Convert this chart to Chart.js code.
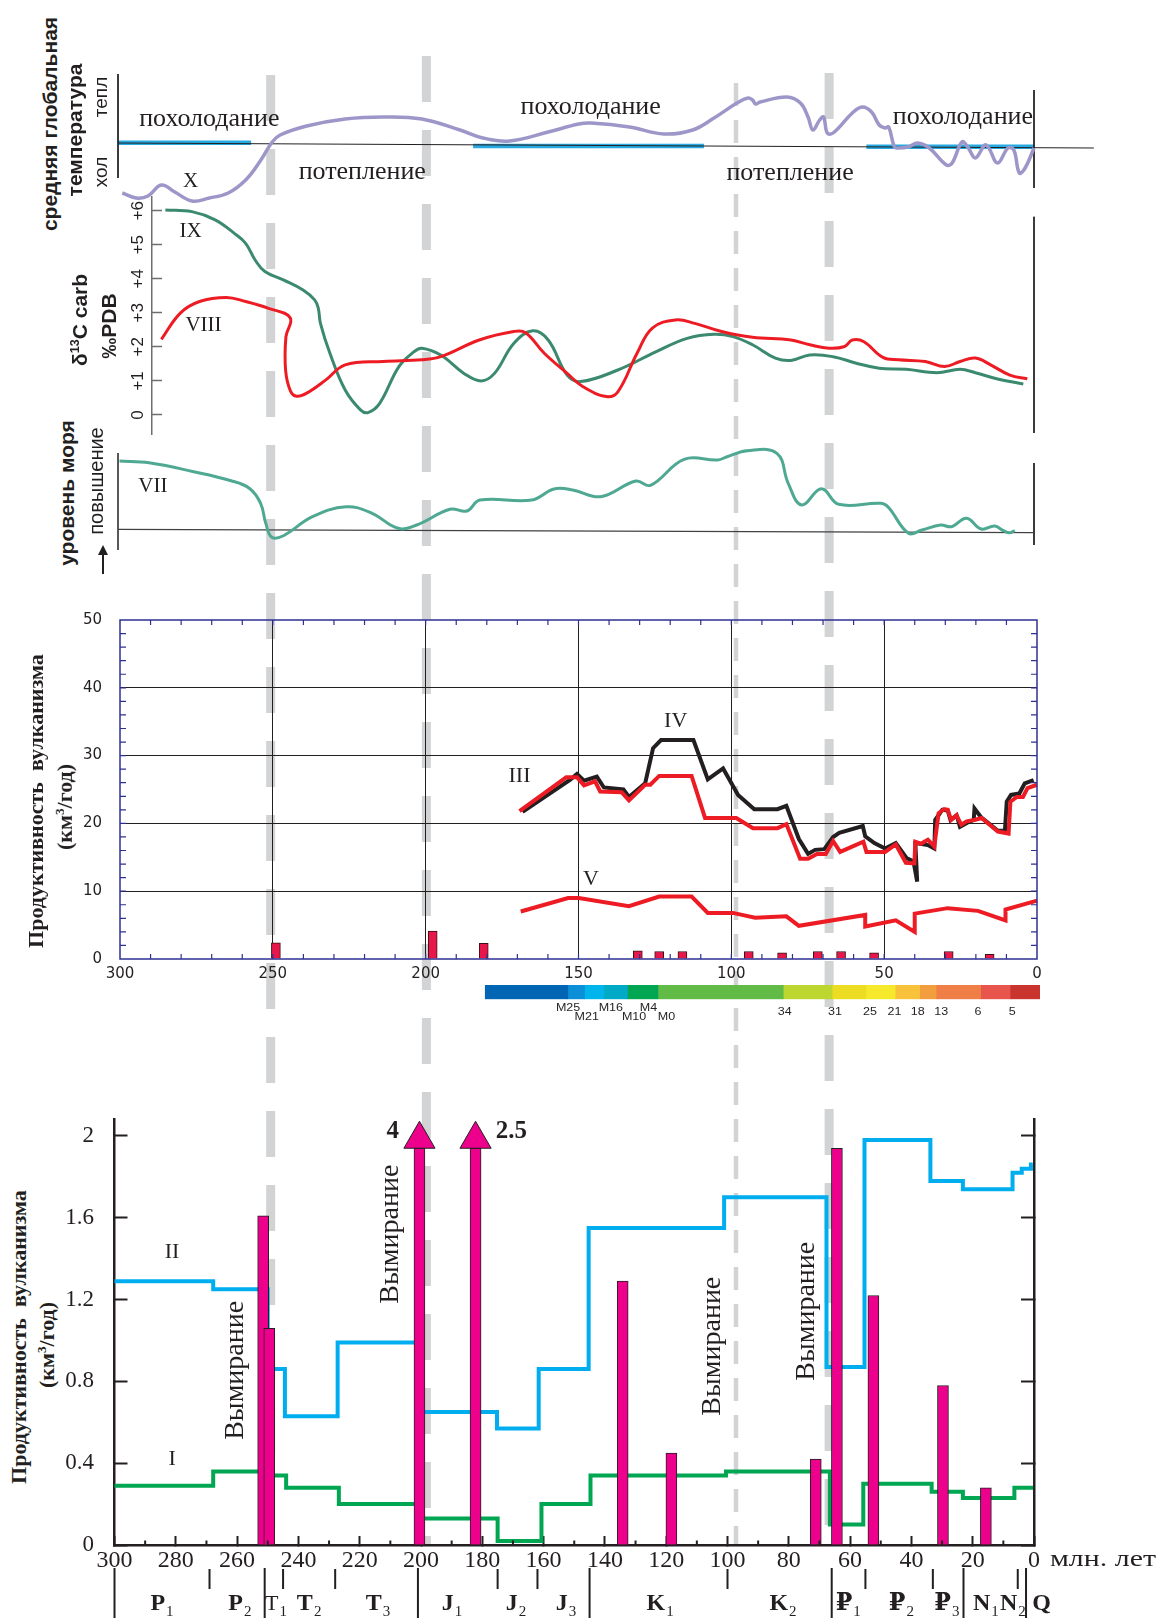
<!DOCTYPE html>
<html lang="ru">
<head>
<meta charset="utf-8">
<script src="https://cdn.jsdelivr.net/npm/chart.js@4.4.1/dist/chart.umd.min.js"></script>
<style>
  html, body { margin: 0; padding: 0; background: #fff; }
  body { position: relative; width: 1164px; height: 1618px; overflow: hidden; color: #231f20; }
  canvas { position: absolute; }
  .vt { position: absolute; z-index: 3; white-space: nowrap; line-height: 1; transform: translate(-50%, -50%) rotate(-90deg); }
  .sb { font: bold 21px 'Liberation Sans', Arial, sans-serif; }
  .sr { font: 19px 'Liberation Sans', Arial, sans-serif; }
  .tb { font: bold 22px 'Liberation Serif', 'Times New Roman', serif; }
  sup { font-size: 60%; }
</style>
</head>
<body>
<div class="vt sb" style="left:50px;top:124px">средняя глобальная</div>
<div class="vt sb" style="left:75px;top:130px">температура</div>
<div class="vt sr" style="left:101px;top:97px">тепл</div>
<div class="vt sr" style="left:101px;top:172px">хол</div>
<div class="vt sb" style="left:80px;top:320px">δ<sup>13</sup>C carb</div>
<div class="vt sb" style="left:109px;top:326px">‰PDB</div>
<div class="vt sb" style="left:67px;top:493px">уровень моря</div>
<div class="vt sr" style="left:96px;top:481px;font-size:20px">повышение</div>
<div style="position:absolute;left:102px;top:553px;width:2px;height:21px;background:#231f20"></div>
<div style="position:absolute;left:98px;top:545px;width:0;height:0;border-left:5px solid transparent;border-right:5px solid transparent;border-bottom:10px solid #231f20"></div>
<div class="vt tb" style="left:36px;top:801px">Продуктивность&nbsp;&nbsp;вулканизма</div>
<div class="vt tb" style="left:65px;top:807px">(км<sup>3</sup>/год)</div>
<div class="vt tb" style="left:19px;top:1337px">Продуктивность&nbsp;&nbsp;вулканизма</div>
<div class="vt tb" style="left:47px;top:1345px">(км<sup>3</sup>/год)</div>

<script>
// ---------- data (ages in Ma) ----------

// X: mean global temperature, relative units (0 = baseline)
const tempCurve = [
  [298.6,-4.8],[294.0,-5.3],[290.2,-5.1],[285.8,-4.0],[281.4,-4.7],[275.8,-5.6],[270.1,-5.3],
  [263.9,-4.8],[258.2,-3.5],[253.2,-1.5],[249.5,0.3],[246.9,1.0],[238.2,1.9],[225.6,2.6],
  [213.1,2.8],[200.5,2.6],[188.0,1.5],[180.5,0.7],[171.7,0.4],[159.1,1.3],[149.1,2.1],
  [145.1,2.2],[132.5,1.8],[121.2,1.1],[111.8,1.5],[104.8,2.7],[97.3,4.2],[93.7,4.7],
  [92.2,4.5],[91.2,4.1],[89.7,4.3],[80.9,4.8],[76.5,4.2],[74.0,2.8],[72.4,1.5],[70.2,2.5],
  [68.9,2.8],[67.7,1.2],[65.8,1.2],[59.5,3.2],[56.3,3.8],[53.2,3.3],[50.7,2.0],[48.8,1.7],
  [47.6,1.8],[45.7,-0.2],[44.4,-0.3],[41.3,-0.2],[38.1,0.2],[34.3,-0.3],[28.7,-2.0],
  [26.8,-1.8],[23.6,0.3],[21.7,-0.2],[19.2,-1.3],[16.1,0.0],[14.8,-0.3],[11.9,-1.8],
  [8.5,-0.3],[6.6,-0.5],[4.8,-2.8],[2.9,-2.3],[0,-0.3]
];
const coolStart = [300, 183.7, 54.9];
const coolEnd = [256.4, 108.1, 0];
const coolLevel = [0.23, -0.1, -0.17];
const tempBaseline = [[300, 0.2], [-19.6, -0.3]];

// IX and VIII: δ13C carb, ‰ PDB
const carbIX = [
  [284.5,6.02],[275.8,5.97],[268.2,5.73],[262.0,5.34],[258.2,5.04],[255.1,4.55],[251.9,4.21],
  [245.7,3.96],[239.4,3.67],[235.6,3.38],[234.4,3.13],[233.7,2.69],[230.6,1.81],[225.6,0.73],
  [220.6,0.15],[218.1,0.07],[214.3,0.34],[208.0,1.42],[203.0,1.86],[200.5,1.96],[194.3,1.76],
  [186.7,1.22],[181.1,1.0],[176.7,1.22],[170.4,2.1],[164.2,2.47],[159.1,2.2],[152.9,1.17],
  [148.5,0.98],[136.3,1.32],[123.7,1.86],[113.6,2.25],[104.8,2.37],[98.6,2.3],[92.2,2.06],
  [84.7,1.67],[79.6,1.6],[73.4,1.76],[65.8,1.71],[58.2,1.52],[50.7,1.37],[41.9,1.34],
  [31.8,1.24],[24.2,1.34],[19.2,1.24],[11.6,1.05],[3.5,0.91]
];
const carbVIII = [
  [285.8,2.22],[279.6,2.99],[273.3,3.33],[264.5,3.45],[258.2,3.33],[250.7,3.13],[243.6,2.85],
  [245.0,2.3],[245.1,1.3],[243.5,0.7],[241.5,0.55],[238.2,0.64],[231.9,1.03],[225.6,1.47],
  [213.1,1.57],[200.5,1.62],[194.3,1.71],[181.7,2.2],[170.4,2.45],[166.6,2.42],[160.4,1.81],
  [152.9,1.22],[147.7,0.83],[140.1,0.54],[136.3,0.68],[130.0,1.81],[125.0,2.55],[117.4,2.79],
  [111.1,2.69],[102.3,2.45],[92.2,2.28],[79.6,2.2],[73.4,2.06],[67.1,1.96],[62.0,2.01],
  [59.5,2.2],[55.7,2.15],[49.5,1.69],[44.4,1.62],[35.6,1.57],[29.3,1.42],[24.2,1.57],
  [19.2,1.67],[14.2,1.47],[7.9,1.17],[2.2,1.06]
];
const deltaTicks = [0, 1, 2, 3, 4, 5, 6];

// VII: sea level, relative units (0 = baseline)
const seaVII = [
  [299.5,6.9],[289.8,6.73],[275.2,5.83],[263.0,4.93],[257.0,4.17],[253.3,2.67],[251.6,0.67],
  [249.6,-0.73],[246.0,-0.6],[236.3,1.33],[225.3,2.33],[216.8,1.67],[208.3,0.17],[202.2,0.5],
  [191.3,2.07],[185.7,1.9],[181.5,3.0],[164.5,3.0],[157.2,4.1],[151.1,4.0],[141.9,3.33],
  [130.4,4.9],[125.6,4.47],[114.6,7.07],[103.6,7.0],[100.5,7.33],[93.9,7.93],[84.2,7.67],
  [80.5,4.67],[76.1,2.5],[69.6,4.13],[64.0,2.57],[50.1,2.67],[47.7,2.27],[41.1,-0.33],
  [36.7,0.0],[30.6,0.5],[27.0,0.33],[22.1,1.17],[17.3,0.1],[12.9,0.4],[10.0,-0.07],
  [8.0,-0.27],[6.3,-0.07]
];
const seaBaseline = [[300, 0.07], [0, -0.27]];

// III, IV, V: volcanic productivity, km3/yr
const volcIII = [
  [169.3,21.8],[154,26.8],[150.5,26.8],[148.2,25.6],[144.6,26.2],[142.9,24.7],[135.9,24.6],
  [133.5,23.4],[128.2,25.7],[126.5,25.7],[123.6,27.0],[113,27.0],[108.6,20.8],[98.4,20.8],
  [92.9,19.3],[84.9,19.3],[82,19.9],[77.5,14.8],[74.9,14.8],[72,15.5],[69.1,15.5],[66.7,17.4],
  [64.4,15.8],[56.8,17.3],[55.8,15.8],[49.7,15.8],[46.2,16.9],[42.9,14.2],[40.1,14.1],
  [39.8,17.3],[38,17.0],[35.7,17.6],[33.6,16.6],[32.2,21.5],[30.4,22.1],[29.2,22.0],
  [28.1,20.5],[26.3,21.2],[24.8,19.8],[23,20.3],[20.5,20.5],[18.1,20.8],[15.8,19.9],
  [12.8,18.8],[9.3,18.5],[8.7,23.2],[6.6,23.9],[4.6,23.9],[3.1,25.2],[0,25.7]
];
const volcIV = [
  [168.3,21.7],[152.8,26.4],[150.5,27.3],[148.2,26.3],[144,26.9],[141.7,25.3],[135.3,25.0],
  [133.5,23.9],[128.2,25.9],[125.6,31.1],[123,32.3],[112.4,32.3],[107.7,26.5],[102.7,28.1],
  [97.8,24.2],[92.5,22.1],[84.9,22.1],[82,22.6],[77.9,17.7],[74.9,15.5],[72.6,16.1],
  [69.6,16.2],[66.7,18.0],[64.7,18.6],[57,19.6],[56.2,18.1],[53.2,17.1],[49.7,16.3],
  [46.2,17.1],[42.7,14.9],[40.4,14.4],[39.2,11.4],[39.8,17.1],[35.7,16.8],[33.6,16.3],
  [33.3,20.5],[31,22.0],[29.2,21.9],[28.3,20.5],[26.3,21.2],[25.2,19.5],[22.8,20.1],
  [20.7,20.5],[20.45,22.2],[18.3,20.9],[15.8,20.0],[12.8,18.9],[10.5,18.9],[9.9,23.2],
  [8.5,24.2],[5.8,24.4],[4,25.9],[1.1,26.4]
];
const volcV = [
  [168.9,7.0],[153.4,9.0],[149.9,9.0],[133.5,7.8],[123.6,9.2],[113,9.2],[107.7,6.8],[99.5,6.8],
  [92.2,6.1],[82,6.3],[77.9,4.9],[56.2,6.5],[56.2,4.8],[46.2,5.7],[40,4.0],[40,6.7],[29.2,7.5],
  [19.3,7.1],[10.3,5.7],[10.3,7.3],[0,8.6]
];
const midPulseAge = [249, 197.7, 181, 130.6, 123.6, 116, 94.3, 83.4, 71.7, 64.1, 53.3, 28.9, 15.5];
const midPulseValue = [2.4, 4.1, 2.3, 1.2, 1.1, 1.1, 1.1, 0.9, 1.1, 1.1, 0.9, 1.1, 0.7];

// magnetic anomaly scale
const chronBounds = [180.5, 153.5, 148, 141.7, 134, 124, 83, 67, 56, 46.4, 38.4, 33, 18.4, 8.8, -1];
const chronName = ['M25', 'M21', 'M16', 'M10', 'M4', 'M0', '34', '31', '25', '21', '18', '13', '6', '5'];
const chronAge = [153.4, 147.3, 139.4, 131.8, 127.1, 121.2, 82.5, 66.1, 54.6, 46.6, 39, 31.3, 19.3, 8.1];
const chronRow = [0, 1, 0, 1, 0, 1, 2, 2, 2, 2, 2, 2, 2, 2];

// II and I: step series, km3/yr
const lipIIStart = [300, 267.8, 250, 244.4, 227.2, 200, 175.2, 161.6, 145.3, 101.1, 67.7, 55.3, 33.8, 23.2, 7, 4, 1];
const lipIILevel = [1.29, 1.25, 0.86, 0.63, 0.99, 0.65, 0.57, 0.86, 1.55, 1.70, 0.87, 1.98, 1.78, 1.74, 1.82, 1.84, 1.86];
const lipIIEnd = 0.4;
const lipIStart = [300, 267.8, 250, 244, 226.8, 200, 175, 160.7, 144.7, 100.5, 66.6, 55.7, 33.4, 23.2, 6.4];
const lipILevel = [0.29, 0.36, 0.34, 0.28, 0.20, 0.13, 0.02, 0.20, 0.34, 0.36, 0.10, 0.30, 0.26, 0.23, 0.28];
const lipIEnd = 0.3;
const pulseAge = [251.5, 249.5, 200.5, 182.2, 134.2, 118.3, 71.2, 64.3, 52.4, 29.7, 15.7];
const pulseValue = [1.61, 1.06, 4, 2.5, 1.29, 0.45, 0.42, 1.96, 1.22, 0.78, 0.28];
const pulseCap = 1.94;          // bars above the axis are cut here and get an arrow
const bottomTicks = [0, 0.4, 0.8, 1.2, 1.6, 2];

// geological time scale
const periodBounds = [300, 251, 201, 145, 66, 23, 2.6];
const epochBounds = [269, 245, 228, 175, 162, 100, 55, 33, 5.3];
const stageName = ['P', 'P', 'T', 'T', 'T', 'J', 'J', 'J', 'K', 'K', '₽', '₽', '₽', 'N', 'N', 'Q'];
const stageSub = ['1', '2', '1', '2', '3', '1', '2', '3', '1', '2', '1', '2', '3', '1', '2', ''];
const stageAge = [284.5, 259.1, 247.3, 236.5, 214, 189.9, 169, 152.7, 122, 81.9, 60.6, 43.3, 28.4, 15.7, 6.9, -2.6];

// extinction events (grey dashed lines)
const eventAge = [250, 199, 97.6, 67.1];

// ---------- styles ----------
const INK = '#231f20';
const SANS = "'Liberation Sans', Arial, sans-serif";
const WIDE_SANS = "'DejaVu Sans', 'Liberation Sans', sans-serif";
const SERIF = "'Liberation Serif', 'DejaVu Serif', 'Times New Roman', serif";
const PURPLE = '#9d96c9', CYAN = '#27aae1', TEAL = '#3b8a70', RED = '#ed1c24', SEA = '#4ea892';
const LIPII = '#00aeef', LIPI = '#00a651', MAGENTA = '#ec008c', FRAME = '#2e3192';
const chronColors = ['#0066b3', '#0a8fd8', '#00b4ec', '#00a9c6', '#00a651', '#62bb46', '#bed630',
  '#ecdc22', '#f6e82b', '#f8c23b', '#f29d3e', '#ef7f46', '#e8554c', '#c9342e'];
const eventTop = [75, 56, 83, 73];      // page px where each dashed line starts
const eventBottom = 1545;
const eventWidth = [9, 9, 4.5, 9];
const eventDash = [[46, 28], [46, 28], [23, 14], [46, 28]];

Chart.defaults.font.family = SANS;
Chart.defaults.color = INK;
Chart.defaults.animation = false;
Chart.defaults.plugins.legend.display = false;
Chart.defaults.plugins.tooltip.enabled = false;

// ---------- helpers ----------
function makeCanvas(left, top, width, height, z) {
  const c = document.createElement('canvas');
  c.width = width; c.height = height;
  c.style.left = left + 'px'; c.style.top = top + 'px';
  c.style.width = width + 'px'; c.style.height = height + 'px';
  c.style.zIndex = z;
  document.body.appendChild(c);
  return c;
}
const pts = arr => arr.map(([x, y]) => ({ x, y }));
function lineSet(data, color, width, extra) {
  return Object.assign({ type: 'line', data, borderColor: color, borderWidth: width,
    pointRadius: 0, fill: false, tension: 0, clip: false }, extra || {});
}
const hiddenX = (min, max) => ({ type: 'linear', min, max, reverse: true, display: false });
const baseOpts = { responsive: false, devicePixelRatio: 1, animation: false };
// fixed axis boxes, no automatic label overhang padding
const fixW = w => s => { s.width = w; s.paddingTop = 0; s.paddingBottom = 0; };
const fixH = h => s => { s.height = h; s.paddingLeft = 0; s.paddingRight = 0; };

function notes(items) {
  return {
    id: 'notes',
    afterDraw(chart) {
      const ctx = chart.ctx, xs = chart.scales.x, ys = chart.scales.y;
      items.forEach(it => {
        ctx.save();
        ctx.translate(xs.getPixelForValue(it.x), ys.getPixelForValue(it.y));
        if (it.rotate) ctx.rotate(it.rotate * Math.PI / 180);
        if (it.sx) ctx.scale(it.sx, 1);
        ctx.font = it.font;
        ctx.fillStyle = it.color || INK;
        ctx.textAlign = it.align || 'center';
        ctx.textBaseline = 'middle';
        ctx.fillText(it.text, 0, 0);
        ctx.restore();
      });
    }
  };
}

// ---------- grey dashed event lines (behind everything) ----------
new Chart(makeCanvas(108, 0, 936, 1618, 0), {
  type: 'line',
  data: { datasets: eventAge.map((a, i) => lineSet([{ x: a, y: eventTop[i] }, { x: a, y: eventBottom }],
    '#d1d3d4', eventWidth[i], { borderDash: eventDash[i], borderCapStyle: 'butt' })) },
  options: Object.assign({}, baseOpts, {
    layout: { padding: { left: 10, right: 10, top: 0, bottom: 0 } },
    scales: { x: hiddenX(0, 300), y: { type: 'linear', min: 0, max: 1618, reverse: true, display: false } }
  })
});

// ---------- temperature ----------
const labelFont = `26px ${SERIF}`;
const romanFont = `21px ${SERIF}`;
new Chart(makeCanvas(108, 45, 996, 175, 1), {
  type: 'line',
  data: { datasets: [
    lineSet(pts(tempCurve), PURPLE, 3.5, { tension: 0.4, order: 0 }),
    lineSet(pts(tempBaseline), INK, 1, { order: 1 }),
    ...coolStart.map((s, i) => lineSet([{ x: s, y: coolLevel[i] }, { x: coolEnd[i], y: coolLevel[i] }], CYAN, 4.5, { order: 2 })),
    lineSet([{ x: 300, y: 7.1 }, { x: 300, y: -3.3 }], INK, 1, { order: 1 }),
    lineSet([{ x: 0, y: 5.5 }, { x: 0, y: -4.3 }], INK, 1, { order: 1 })
  ] },
  options: Object.assign({}, baseOpts, {
    layout: { padding: 10 },
    scales: { x: hiddenX(-19.65, 300), y: { type: 'linear', min: -6.5, max: 9, display: false } }
  }),
  plugins: [notes([
    { x: 270.1, y: 2.6, text: 'похолодание', font: labelFont },
    { x: 220.0, y: -2.67, text: 'потепление', font: labelFont },
    { x: 145.2, y: 3.77, text: 'похолодание', font: labelFont },
    { x: 79.9, y: -2.77, text: 'потепление', font: labelFont },
    { x: 23.3, y: 2.83, text: 'похолодание', font: labelFont },
    { x: 276.2, y: -3.67, text: 'X', font: romanFont }
  ])]
});

// ---------- δ13C ----------
function deltaLabels(values) {
  return {
    id: 'deltaLabels',
    afterDraw(chart) {
      const { ctx, chartArea } = chart, ys = chart.scales.y;
      ctx.save();
      ctx.font = `17px ${SANS}`; ctx.fillStyle = INK;
      ctx.textAlign = 'center'; ctx.textBaseline = 'middle';
      values.forEach(v => {
        ctx.save();
        ctx.translate(chartArea.left - 14, ys.getPixelForValue(v));
        ctx.rotate(-Math.PI / 2);
        ctx.fillText(v === 0 ? '0' : '+' + v, 0, 0);
        ctx.restore();
      });
      ctx.restore();
    }
  };
}
new Chart(makeCanvas(102, 189, 947, 253, 1), {
  type: 'line',
  data: { datasets: [
    lineSet(pts(carbVIII), RED, 3, { tension: 0.4, order: 0 }),
    lineSet(pts(carbIX), TEAL, 3, { tension: 0.4, order: 1 }),
    lineSet([{ x: 0, y: 5.82 }, { x: 0, y: -0.53 }], INK, 1, { order: 2 })
  ] },
  options: Object.assign({}, baseOpts, {
    layout: { padding: { left: 10, right: 15, top: 8, bottom: 8 } },
    scales: {
      x: hiddenX(0, 288.87),
      y: {
        type: 'linear', position: 'left', min: -0.56, max: 6.4,
        afterBuildTicks: s => { s.ticks = deltaTicks.map(v => ({ value: v })); },
        afterFit: fixW(40),
        ticks: { display: false },
        grid: { drawOnChartArea: false, drawTicks: true, tickLength: -10, tickColor: '#6d6e71', tickWidth: 1.5 },
        border: { display: true, color: '#6d6e71', width: 1.5 }
      }
    }
  }),
  plugins: [deltaLabels(deltaTicks), notes([
    { x: 276.2, y: 5.38, text: 'IX', font: romanFont },
    { x: 272.0, y: 2.64, text: 'VIII', font: romanFont }
  ])]
});

// ---------- sea level ----------
new Chart(makeCanvas(108, 430, 936, 140, 1), {
  type: 'line',
  data: { datasets: [
    lineSet(pts(seaVII), SEA, 3, { tension: 0.4, order: 0 }),
    lineSet(pts(seaBaseline), '#414042', 1.3, { order: 1 }),
    lineSet([{ x: 300, y: 7.7 }, { x: 300, y: -2.0 }], '#414042', 1, { order: 1 }),
    lineSet([{ x: 0, y: 6.7 }, { x: 0, y: -1.5 }], INK, 1, { order: 1 })
  ] },
  options: Object.assign({}, baseOpts, {
    layout: { padding: 10 },
    scales: { x: hiddenX(0, 300), y: { type: 'linear', min: -3, max: 9, display: false } }
  }),
  plugins: [notes([{ x: 288.6, y: 4.33, text: 'VII', font: romanFont }])]
});

// ---------- volcanism 0-50 km3/yr ----------
function frameTicks(minorX, minorY) {
  return {
    id: 'frameTicks',
    afterDatasetsDraw(chart) {
      const { ctx, chartArea: a } = chart, xs = chart.scales.x, ys = chart.scales.y;
      ctx.save();
      ctx.strokeStyle = FRAME; ctx.lineWidth = 1.5;
      ctx.strokeRect(a.left, a.top, a.right - a.left, a.bottom - a.top);
      ctx.lineWidth = 1.2;
      ctx.beginPath();
      minorX.forEach(v => {
        const x = xs.getPixelForValue(v);
        ctx.moveTo(x, a.bottom); ctx.lineTo(x, a.bottom - 5);
        ctx.moveTo(x, a.top); ctx.lineTo(x, a.top + 5);
      });
      minorY.forEach(v => {
        const y = ys.getPixelForValue(v);
        ctx.moveTo(a.left, y); ctx.lineTo(a.left + 6, y);
        ctx.moveTo(a.right, y); ctx.lineTo(a.right - 6, y);
      });
      ctx.stroke();
      ctx.restore();
    }
  };
}
const minorAges = [];
for (let a = 10; a < 300; a += 10) minorAges.push(a);
const minorKm = [];
for (let v = 2; v < 50; v += 2) minorKm.push(v);
const edgeColor = (lo, hi) => c => (!c.tick || c.tick.value === lo || c.tick.value === hi) ? 'rgba(0,0,0,0)' : INK;

new Chart(makeCanvas(60, 600, 1000, 400, 1), {
  type: 'line',
  data: { datasets: [
    { type: 'bar', data: midPulseAge.map((a, i) => ({ x: a, y: midPulseValue[i] })), backgroundColor: '#e8174b',
      borderColor: '#3b1113', borderWidth: 1, barThickness: 9, order: 4 },
    lineSet(pts(volcIV), INK, 4, { order: 3, borderJoinStyle: 'miter' }),
    lineSet(pts(volcV), RED, 4, { order: 2 }),
    lineSet(pts(volcIII), RED, 4, { order: 1 })
  ] },
  options: Object.assign({}, baseOpts, {
    layout: { padding: { left: 0, right: 23, top: 20, bottom: 0 } },
    scales: {
      x: {
        type: 'linear', min: 0, max: 300, reverse: true, offset: false,
        afterFit: fixH(41),
        ticks: { stepSize: 50, padding: 6, autoSkip: false, maxRotation: 0, font: { family: WIDE_SANS, size: 15 } },
        grid: { offset: false, drawTicks: false, color: edgeColor(0, 300), lineWidth: 1 },
        border: { display: false, color: FRAME }
      },
      y: {
        type: 'linear', min: 0, max: 50,
        afterFit: fixW(60),
        ticks: { stepSize: 10, padding: 18, font: { family: WIDE_SANS, size: 15 } },
        grid: { offset: false, drawTicks: false, color: edgeColor(0, 50), lineWidth: 1 },
        border: { display: false, color: FRAME }
      }
    }
  }),
  plugins: [frameTicks(minorAges, minorKm), notes([
    { x: 118.2, y: 35.0, text: 'IV', font: `22px ${SERIF}` },
    { x: 169.3, y: 27.0, text: 'III', font: `22px ${SERIF}` },
    { x: 145.9, y: 11.8, text: 'V', font: `22px ${SERIF}` }
  ])]
});

// ---------- magnetic anomaly colour bar ----------
function chronLabels() {
  return {
    id: 'chronLabels',
    afterDraw(chart) {
      const { ctx, chartArea } = chart, xs = chart.scales.x;
      const rowOffset = [9, 17.5, 13];
      ctx.save();
      ctx.font = `10px ${SANS}`; ctx.fillStyle = INK;
      ctx.textAlign = 'center'; ctx.textBaseline = 'middle';
      chronName.forEach((n, i) => {
        ctx.save();
        ctx.translate(xs.getPixelForValue(chronAge[i]), chartArea.bottom + rowOffset[chronRow[i]]);
        ctx.scale(1.25, 1);
        ctx.fillText(n, 0, 0);
        ctx.restore();
      });
      ctx.restore();
    }
  };
}
new Chart(makeCanvas(110, 975, 940, 50, 1), {
  type: 'bar',
  data: { labels: [''], datasets: chronColors.map((c, i) => ({
    data: [[chronBounds[i], chronBounds[i + 1]]], backgroundColor: c, borderWidth: 0,
    grouped: false, barPercentage: 1, categoryPercentage: 1 })) },
  options: Object.assign({}, baseOpts, {
    indexAxis: 'y',
    layout: { padding: { left: 10, right: 10, top: 10, bottom: 25.7 } },
    scales: { x: { type: 'linear', min: -1, max: 300, reverse: true, display: false }, y: { display: false } }
  }),
  plugins: [chronLabels()]
});

// ---------- volcanism 0-2 km3/yr with time scale ----------
const stepData = (starts, levels, end) =>
  starts.map((s, i) => ({ x: s, y: levels[i] })).concat([{ x: end, y: levels[levels.length - 1] }]);
const yMaxBottom = 2.083;

function bottomDecor() {
  return {
    id: 'bottomDecor',
    afterDraw(chart) {
      const { ctx, chartArea: a } = chart, xs = chart.scales.x;
      ctx.save();
      ctx.strokeStyle = INK; ctx.lineWidth = 2;
      ctx.beginPath();
      minorAges.filter(v => v % 20 !== 0).forEach(v => {
        const x = xs.getPixelForValue(v);
        ctx.moveTo(x, a.bottom); ctx.lineTo(x, a.bottom - 4.5);
      });
      periodBounds.forEach(v => {
        const x = xs.getPixelForValue(v);
        ctx.moveTo(x, a.bottom + 23); ctx.lineTo(x, chart.height);
      });
      epochBounds.forEach(v => {
        const x = xs.getPixelForValue(v);
        ctx.moveTo(x, a.bottom + 24); ctx.lineTo(x, a.bottom + 44);
      });
      ctx.stroke();
      ctx.fillStyle = INK; ctx.textBaseline = 'alphabetic'; ctx.textAlign = 'left';
      stageName.forEach((n, i) => {
        const mainFont = (n === 'T' && stageSub[i] === '1') ? `22px ${SERIF}` : `bold 24px ${SERIF}`;
        const subFont = `15px ${SERIF}`;
        ctx.font = mainFont; const w1 = ctx.measureText(n).width;
        ctx.font = subFont; const w2 = stageSub[i] ? ctx.measureText(stageSub[i]).width : 0;
        const left = xs.getPixelForValue(stageAge[i]) - (w1 + w2 + 1) / 2;
        ctx.font = mainFont; ctx.fillText(n, left, a.bottom + 65);
        if (stageSub[i]) { ctx.font = subFont; ctx.fillText(stageSub[i], left + w1 + 1, a.bottom + 71); }
      });
      ctx.restore();
    }
  };
}
const bigPulses = pulseAge.map((a, i) => ({ a, v: pulseValue[i] })).filter(p => p.v > yMaxBottom);
const vym = `28px ${SERIF}`;

new Chart(makeCanvas(60, 1100, 1104, 518, 1), {
  type: 'line',
  data: { datasets: [
    lineSet(stepData(lipIIStart, lipIILevel, lipIIEnd), LIPII, 4, { stepped: 'before', order: 4 }),
    lineSet(stepData(lipIStart, lipILevel, lipIEnd), LIPI, 4, { stepped: 'before', order: 4 }),
    { type: 'bar', data: pulseAge.map((a, i) => ({ x: a, y: Math.min(pulseValue[i], pulseCap) })),
      backgroundColor: MAGENTA, borderColor: INK, borderWidth: 1, barThickness: 11, order: 2 },
    { type: 'line', data: bigPulses.map(p => ({ x: p.a, y: pulseCap + 0.044 })), showLine: false,
      pointStyle: 'triangle', pointRadius: 18, pointBackgroundColor: MAGENTA, pointBorderColor: INK,
      pointBorderWidth: 1, clip: false, order: 1 }
  ] },
  options: Object.assign({}, baseOpts, {
    layout: { padding: { left: 0, right: 130, top: 18, bottom: 0 } },
    scales: {
      x: {
        type: 'linear', min: 0, max: 300, reverse: true, offset: false,
        afterFit: fixH(73),
        ticks: { stepSize: 20, padding: 10, autoSkip: false, maxRotation: 0, font: { family: SERIF, size: 24 } },
        grid: { offset: false, drawOnChartArea: false, drawTicks: true, tickLength: -9, tickColor: INK, tickWidth: 2 },
        border: { color: INK, width: 2.5 }
      },
      y: {
        type: 'linear', position: 'left', min: 0, max: yMaxBottom,
        afterBuildTicks: s => { s.ticks = bottomTicks.map(v => ({ value: v })); },
        afterFit: fixW(54.5),
        ticks: { padding: 33.5, font: { family: SERIF, size: 23 },
          callback: v => (v === 0 ? '0' : v === 2 ? '2' : v.toFixed(1)) },
        grid: { drawOnChartArea: false, drawTicks: true, tickLength: -13, tickColor: INK, tickWidth: 2 },
        border: { color: INK, width: 2.5 }
      },
      y2: {
        type: 'linear', position: 'right', min: 0, max: yMaxBottom,
        afterBuildTicks: s => { s.ticks = bottomTicks.map(v => ({ value: v })); },
        afterFit: fixW(0),
        ticks: { display: false },
        grid: { drawOnChartArea: false, drawTicks: true, tickLength: -13, tickColor: INK, tickWidth: 2 },
        border: { color: INK, width: 2.5 }
      }
    }
  }),
  plugins: [bottomDecor(), notes([
    { x: 281.2, y: 1.43, text: 'II', font: `22px ${SERIF}` },
    { x: 281.2, y: 0.42, text: 'I', font: `22px ${SERIF}` },
    { x: 260.6, y: 0.854, text: 'Вымирание', font: vym, rotate: -90 },
    { x: 209.8, y: 1.52, text: 'Вымирание', font: vym, rotate: -90 },
    { x: 104.7, y: 0.972, text: 'Вымирание', font: vym, rotate: -90 },
    { x: 74.3, y: 1.143, text: 'Вымирание', font: vym, rotate: -90 },
    { x: 209.2, y: 2.024, text: String(bigPulses[0].v), font: `bold 25px ${SERIF}` },
    { x: 170.5, y: 2.024, text: String(bigPulses[1].v), font: `bold 25px ${SERIF}` },
    { x: -5.2, y: -0.073, text: 'млн. лет', font: `23px ${SERIF}`, align: 'left', sx: 1.3 }
  ])]
});
</script>
</body>
</html>
